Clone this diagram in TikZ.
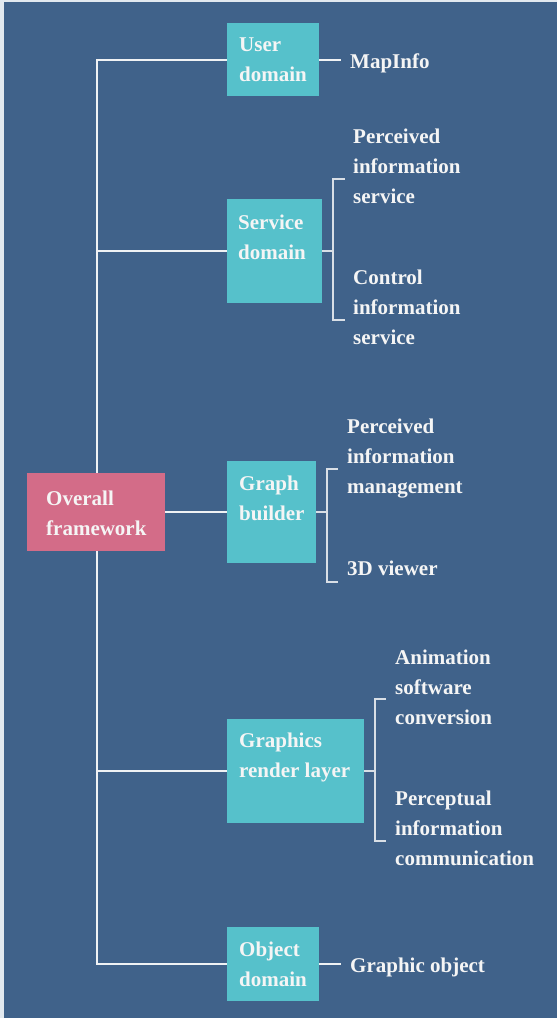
\documentclass[tikz,border=0pt]{standalone}
\usepackage{fontspec}
\setmainfont{Liberation Serif}
\definecolor{bgblue}{HTML}{40628A}
\definecolor{edgec}{HTML}{E2E9EF}
\definecolor{tealbox}{HTML}{56C1CB}
\definecolor{pinkbox}{HTML}{D36C88}
\definecolor{txtc}{HTML}{F5F5F5}
\definecolor{linec}{HTML}{F0F2F4}
\definecolor{brackc}{HTML}{D9DFE6}
\begin{document}
\begin{tikzpicture}[x=1pt,y=-1pt,
  box/.style={fill=tealbox, draw=none, inner sep=0pt},
  rootbox/.style={fill=pinkbox, draw=none, inner sep=0pt},
  lbl/.style={text=txtc, font=\fontsize{21}{30}\selectfont\bfseries, align=left, inner sep=0pt, anchor=west},
  leaf/.style={lbl, inner xsep=9pt, text height=17pt, text depth=0pt},
  conn/.style={draw=linec, line width=2pt},
  brack/.style={draw=brackc, line width=1.6pt}]
\useasboundingbox (0,0) rectangle (557,1018);
\fill[edgec] (0,0) rectangle (557,1018);
\fill[bgblue] (4,2) rectangle (557,1018);

% boxes
\node[box, minimum width=92pt, minimum height=73pt] (user) at (273,59.5) {};
\node[box, minimum width=95pt, minimum height=104pt] (service) at (274.5,251) {};
\node[box, minimum width=89pt, minimum height=102pt] (graph) at (271.5,512) {};
\node[box, minimum width=137pt, minimum height=104pt] (graphics) at (295.5,771) {};
\node[box, minimum width=92pt, minimum height=74pt] (object) at (273,964) {};

% trunk
\coordinate (t1) at (97,59.5);
\coordinate (t5) at (97,964);
\draw[conn] (user.west) -- (t1) -- (t5) -- (object.west);
\draw[conn] (service.west) -- (service.west -| t1);
\draw[conn] (graphics.west) -- (graphics.west -| t1);

% root
\node[rootbox, minimum width=138pt, minimum height=78pt] (overall) at (96,512) {};
\draw[conn] (overall.east) -- (graph.west);

% box labels
\node[lbl] (userT) at (239,60) {User\\domain};
\node[lbl] (serviceT) at (238,237) {Service\\domain};
\node[lbl] (graphT) at (239,498) {Graph\\builder};
\node[lbl] (graphicsT) at (239,757.5) {Graphics\\render layer};
\node[lbl] (objectT) at (239,964.5) {Object\\domain};
\node[lbl] (overallT) at (46,513) {Overall\\framework};

% single leaves
\node[leaf] (mapinfo) at (341,59.5) {MapInfo};
\draw[conn] (user.east) -- (mapinfo.west);
\node[leaf] (gobj) at (341,964) {Graphic object};
\draw[conn] (object.east) -- (gobj.west);

% service bracket
\coordinate (sm) at (333,251);
\coordinate (st) at (333,179);
\coordinate (sb) at (333,320);
\coordinate (stt) at (345,179);
\coordinate (sbt) at (345,320);
\draw[brack] (service.east) -- (sm);
\draw[brack] (stt) -- (st) -- (sb) -- (sbt);
\node[lbl] (pis) at (353,166) {Perceived\\information\\service};
\node[lbl] (cis) at (353,307) {Control\\information\\service};

% graph bracket
\coordinate (gm) at (327,512);
\coordinate (gt) at (327,469);
\coordinate (gb) at (327,582);
\coordinate (gtt) at (338,469);
\coordinate (gbt) at (338,582);
\draw[brack] (graph.east) -- (gm);
\draw[brack] (gtt) -- (gt) -- (gb) -- (gbt);
\node[lbl] (pim) at (347,458.5) {Perceived\\information\\management};
\node[lbl] (viewer) at (347,568) {3D viewer};

% graphics bracket
\coordinate (rm) at (375,771);
\coordinate (rt) at (375,699);
\coordinate (rb) at (375,841);
\coordinate (rtt) at (386,699);
\coordinate (rbt) at (386,841);
\draw[brack] (graphics.east) -- (rm);
\draw[brack] (rtt) -- (rt) -- (rb) -- (rbt);
\node[lbl] (asc) at (395,687) {Animation\\software\\conversion};
\node[lbl] (pic) at (395,828) {Perceptual\\information\\communication};
\end{tikzpicture}
\end{document}
